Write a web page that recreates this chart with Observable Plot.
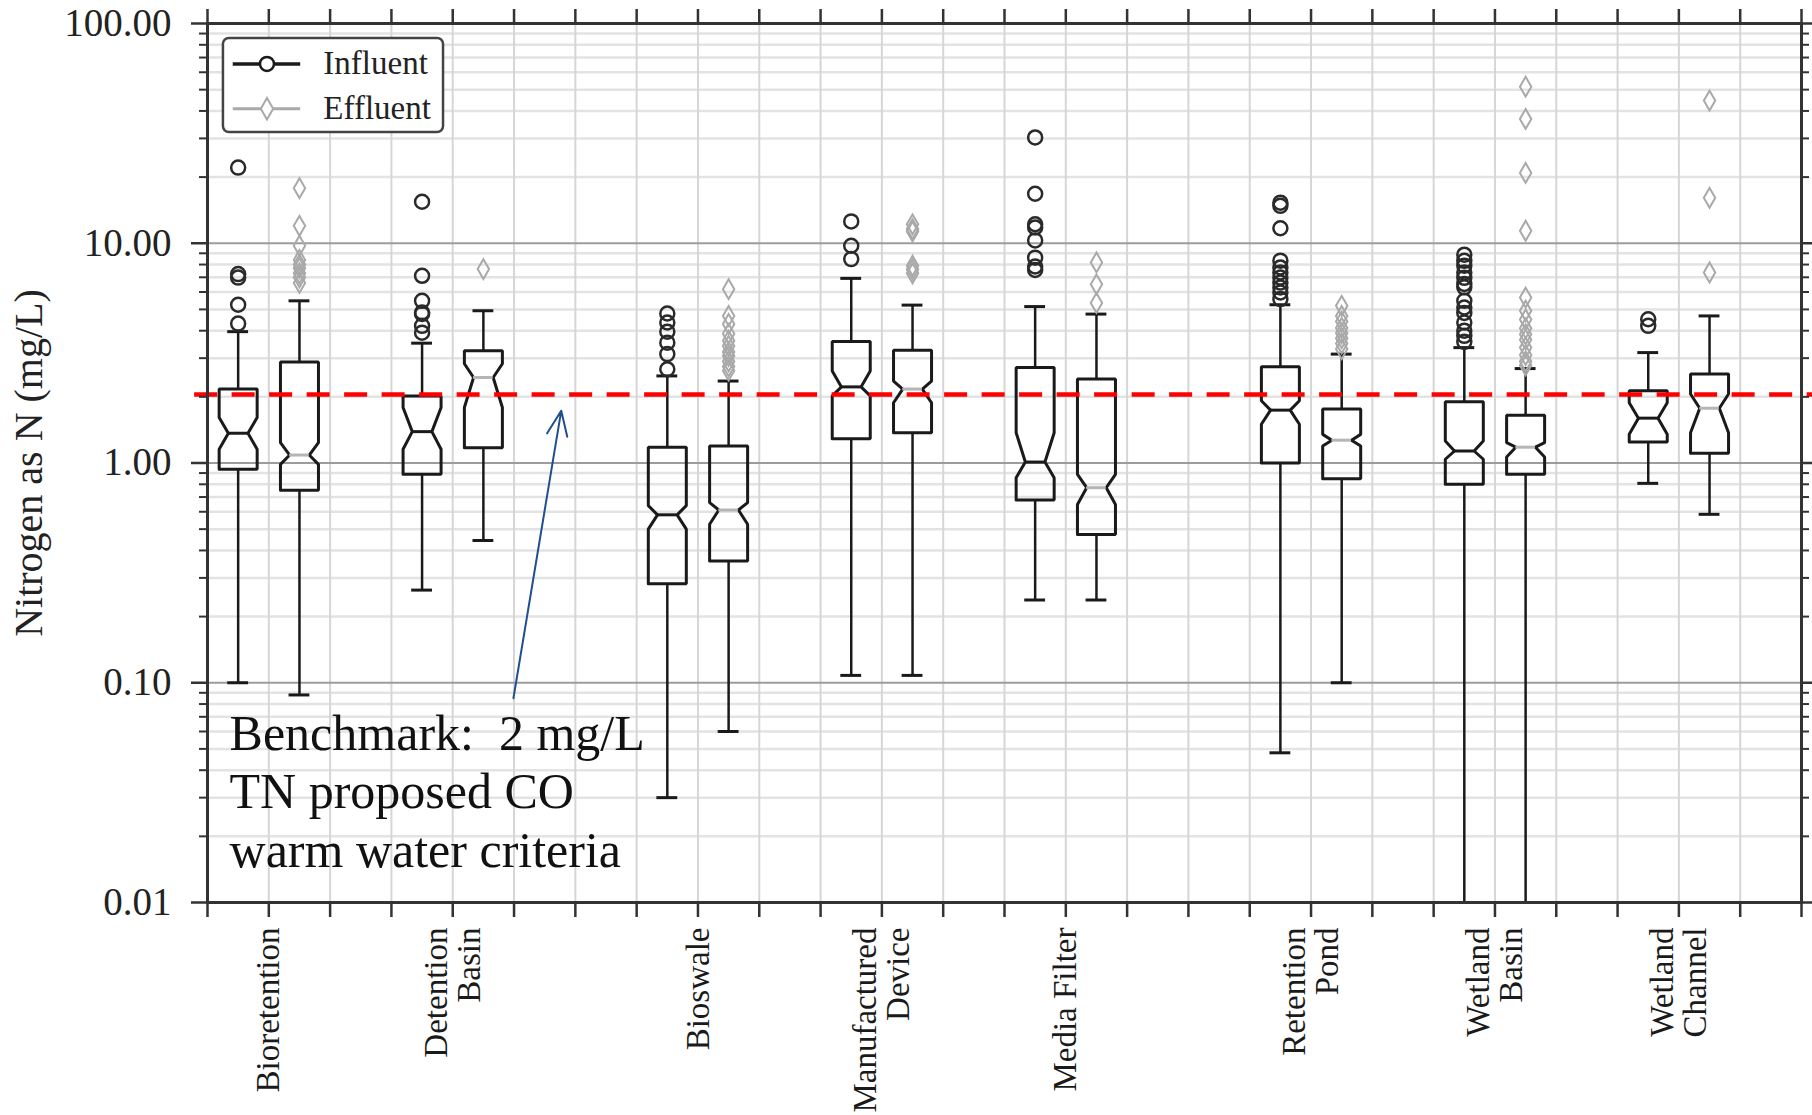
<!DOCTYPE html>
<html><head><meta charset="utf-8">
<script src="https://cdn.jsdelivr.net/npm/d3@7"></script>
<script src="https://cdn.jsdelivr.net/npm/@observablehq/plot@0.6"></script>
<style>
html,body{margin:0;padding:0;background:#fff;}
#chart{width:1812px;height:1115px;}
</style></head><body><div id="chart"></div>
<script>
// ---------- data ----------
const categories = ["Bioretention", "Detention\nBasin", "Bioswale", "Manufactured\nDevice", "Media Filter", "Retention\nPond", "Wetland\nBasin", "Wetland\nChannel"];
const slots = [1, 4, 8, 11, 14, 18, 21, 24];
const slotTicks = d3.range(0, 27);

const infLow     = [0.10, 0.264, 0.030, 0.108, 0.238, 0.048, 0.010, 0.808];
const infQ1      = [0.936, 0.888, 0.282, 1.29, 0.678, 1.00, 0.80, 1.246];
const infNotchLo = [1.155, 1.155, 0.50, 2.02, 0.857, 1.50, 1.04, 1.35];
const infMedian  = [1.366, 1.389, 0.581, 2.22, 1.01, 1.74, 1.134, 1.60];
const infNotchHi = [1.61, 1.79, 0.64, 2.62, 1.374, 1.92, 1.26, 1.88];
const infQ3      = [2.17, 2.02, 1.18, 3.57, 2.72, 2.74, 1.90, 2.13];
const infHigh    = [3.96, 3.51, 2.49, 6.92, 5.15, 5.25, 3.35, 3.18];
const infOutliers = [
  [22.1, 7.24, 6.98, 5.25, 4.31],
  [15.45, 7.11, 5.47, 4.84, 4.77, 4.21, 3.92],
  [4.79, 4.36, 3.96, 3.53, 3.13, 2.67],
  [12.57, 9.74, 8.47],
  [30.3, 16.8, 12.2, 11.8, 10.3, 8.6, 7.84, 7.56],
  [15.3, 14.8, 11.7, 8.33, 7.76, 7.36, 6.98, 6.62, 6.29, 5.97, 5.57],
  [8.87, 8.32, 7.9, 7.36, 6.96, 6.53, 6.3, 5.47, 5.1, 4.82, 4.36, 4.0, 3.79, 3.56],
  [4.51, 4.21]
];

const effLow     = [0.088, 0.444, 0.060, 0.108, 0.238, 0.10, 0.010, 0.584];
const effQ1      = [0.751, 1.174, 0.358, 1.374, 0.473, 0.848, 0.888, 1.107];
const effNotchLo = [0.986, 1.79, 0.526, 1.88, 0.648, 1.195, 1.065, 1.374];
const effMedian  = [1.087, 2.45, 0.611, 2.17, 0.772, 1.27, 1.18, 1.775];
const effNotchHi = [1.237, 2.83, 0.66, 2.36, 0.888, 1.35, 1.237, 2.06];
const effQ3      = [2.88, 3.24, 1.195, 3.26, 2.41, 1.76, 1.65, 2.54];
const effHigh    = [5.47, 4.93, 2.36, 5.23, 4.76, 3.13, 2.69, 4.67];
const effOutliers = [
  [17.8, 12.0, 9.74, 8.4, 8.0, 7.7, 7.3, 7.0, 6.6],
  [7.63],
  [6.18, 4.67, 4.29, 3.87, 3.6, 3.41, 3.2, 3.07, 2.9, 2.75, 2.63],
  [12.2, 11.6, 11.3, 7.9, 7.6, 7.3],
  [8.18, 6.5, 5.35],
  [5.19, 4.67, 4.4, 4.12, 3.9, 3.7, 3.5, 3.3],
  [51.6, 36.8, 20.9, 11.4, 5.66, 4.93, 4.5, 4.1, 3.85, 3.64, 3.35, 3.1, 2.9, 2.78],
  [44.6, 16.1, 7.36]
];

const yMajorTicks = [0.01, 0.1, 1, 10, 100];
const yMinorTicks = [0.01, 0.1, 1, 10].flatMap(d => d3.range(2, 10).map(k => +(k * d).toPrecision(3)));

const benchmarkLevel = 2.05; // as drawn in the picture (2 mg/L benchmark)
const benchmarkText = "Benchmark:  2 mg/L\nTN proposed CO\nwarm water criteria";
const legendLabels = ["Influent", "Effluent"];
const legendY = [65.5, 40.9];

// ---------- styles ----------
const FONT = "'Liberation Serif', 'Times New Roman', serif";
const INK = "#1a1a1a";
const AXIS = "#333333";
const EFF_GRAY = "#a9a9a9";
const BOX_HALF = 0.31, NOTCH_HALF = 0.16, CAP_HALF = 0.17, OFFSET = 0.5;

// ---------- build tables ----------
function makeSeries(name, off, low, q1, nlo, med, nhi, q3, high, outl) {
  return slots.map((s, i) => ({
    id: name + i, series: name, x: s + off,
    low: low[i], q1: q1[i], nlo: nlo[i], med: med[i], nhi: nhi[i], q3: q3[i], high: high[i],
    outliers: outl[i]
  }));
}
const inf = makeSeries("Influent", -OFFSET, infLow, infQ1, infNotchLo, infMedian, infNotchHi, infQ3, infHigh, infOutliers);
const eff = makeSeries("Effluent", OFFSET, effLow, effQ1, effNotchLo, effMedian, effNotchHi, effQ3, effHigh, effOutliers);
const boxes = inf.concat(eff);

const outline = boxes.flatMap(b => [
  [b.x - BOX_HALF, b.q1], [b.x - BOX_HALF, b.nlo], [b.x - NOTCH_HALF, b.med], [b.x - BOX_HALF, b.nhi],
  [b.x - BOX_HALF, b.q3], [b.x + BOX_HALF, b.q3], [b.x + BOX_HALF, b.nhi], [b.x + NOTCH_HALF, b.med],
  [b.x + BOX_HALF, b.nlo], [b.x + BOX_HALF, b.q1], [b.x - BOX_HALF, b.q1]
].map(([x, y]) => ({id: b.id, x, y})));

const infPts = inf.flatMap(b => b.outliers.map(v => ({x: b.x, y: v})));
const effPts = eff.flatMap(b => b.outliers.map(v => ({x: b.x, y: v})));

const legendRows = legendLabels.map((label, i) => ({label, y: legendY[i]}));

const chart = Plot.plot({
  width: 1812, height: 1115,
  marginLeft: 207, marginRight: 11, marginTop: 23, marginBottom: 213,
  style: {fontFamily: FONT, color: "#222", background: "#fff"},
  x: {type: "linear", domain: [0, 26], label: null},
  y: {type: "log", domain: [0.01, 100], label: null},
  marks: [
    // grid
    Plot.gridY({ticks: yMinorTicks, stroke: "#e3e3e3", strokeOpacity: 1, strokeWidth: 2.5}),
    Plot.gridX({ticks: slotTicks, stroke: "#d6d6d6", strokeOpacity: 1, strokeWidth: 2}),
    Plot.gridY({ticks: yMajorTicks, stroke: "#9c9c9c", strokeOpacity: 1, strokeWidth: 2}),
    // legend
    Plot.rect([0], {x1: 0.26, x2: 3.85, y1: 31.9, y2: 85.5, fill: "white", stroke: "#444", strokeWidth: 2.5, rx: 6}),
    Plot.ruleY([legendRows[0]], {y: "y", x1: 0.42, x2: 1.52, stroke: INK, strokeWidth: 3.5}),
    Plot.ruleY([legendRows[1]], {y: "y", x1: 0.42, x2: 1.52, stroke: EFF_GRAY, strokeWidth: 3}),
    Plot.dot([legendRows[0]], {x: 0.97, y: "y", symbol: "circle", r: 7, stroke: INK, fill: "white", strokeWidth: 2.5}),
    Plot.dot([legendRows[1]], {x: 0.97, y: "y", symbol: "diamond", r: 6.5, stroke: EFF_GRAY, fill: "white", strokeWidth: 2}),
    Plot.text(legendRows, {x: 1.89, y: "y", text: "label", textAnchor: "start", fontSize: 33, fill: "#222"}),
    // whiskers
    Plot.ruleX(boxes, {x: "x", y1: "q3", y2: "high", stroke: INK, strokeWidth: 2.5}),
    Plot.ruleX(boxes, {x: "x", y1: "low", y2: "q1", stroke: INK, strokeWidth: 2.5}),
    Plot.ruleY(boxes, {y: "high", x1: d => d.x - CAP_HALF, x2: d => d.x + CAP_HALF, stroke: INK, strokeWidth: 3}),
    Plot.ruleY(boxes, {y: "low", x1: d => d.x - CAP_HALF, x2: d => d.x + CAP_HALF, stroke: INK, strokeWidth: 3}),
    // notched boxes
    Plot.line(outline, {x: "x", y: "y", z: "id", stroke: INK, strokeWidth: 3, strokeLinejoin: "miter"}),
    // medians
    Plot.ruleY(inf, {y: "med", x1: d => d.x - NOTCH_HALF, x2: d => d.x + NOTCH_HALF, stroke: INK, strokeWidth: 3}),
    Plot.ruleY(eff, {y: "med", x1: d => d.x - NOTCH_HALF, x2: d => d.x + NOTCH_HALF, stroke: "#b5b5b5", strokeWidth: 3}),
    // outliers
    Plot.dot(infPts, {x: "x", y: "y", symbol: "circle", r: 7, stroke: "#2a2a2a", strokeWidth: 2.5, fill: "none"}),
    Plot.dot(effPts, {x: "x", y: "y", symbol: "diamond", r: 6, stroke: EFF_GRAY, strokeWidth: 2, fill: "none"}),
    // benchmark line
    Plot.ruleY([benchmarkLevel], {y: d => d, x1: -0.21, x2: 26.2, stroke: "#ff0000", strokeWidth: 4.5, strokeDasharray: "23,14.5"}),
    // annotation
    Plot.arrow([{x1: 4.99, y1: 0.085, x2: 5.77, y2: 1.73}], {x1: "x1", y1: "y1", x2: "x2", y2: "y2", stroke: "#1f4f8f", strokeWidth: 2, headLength: 20, headAngle: 45}),
    Plot.text([benchmarkText], {x: 0.36, y: 0.0765, text: d => d, textAnchor: "start", lineAnchor: "top", fontSize: 50, lineHeight: 1.17, fill: "#111"}),
    // frame
    Plot.frame({stroke: AXIS, strokeWidth: 3}),
    // axes
    Plot.axisY({anchor: "left", ticks: yMajorTicks, tickSize: 16, tickPadding: 20, tickFormat: d => d.toFixed(2), fontSize: 39, stroke: AXIS, strokeWidth: 2.5, fill: "#222"}),
    Plot.axisY({anchor: "left", ticks: yMinorTicks, tickSize: 8, tickFormat: () => "", stroke: AXIS, strokeWidth: 2}),
    Plot.axisY({anchor: "right", ticks: yMajorTicks, tickSize: 14, tickFormat: () => "", stroke: AXIS, strokeWidth: 2.5}),
    Plot.axisY({anchor: "right", ticks: yMinorTicks, tickSize: 7, tickFormat: () => "", stroke: AXIS, strokeWidth: 2}),
    Plot.axisX({anchor: "bottom", ticks: slotTicks, tickSize: 15, tickFormat: () => "", stroke: AXIS, strokeWidth: 2.5}),
    Plot.axisX({anchor: "top", ticks: slotTicks, tickSize: 15, tickFormat: () => "", stroke: AXIS, strokeWidth: 2.5}),
    // category labels
    Plot.text(categories, {x: (d, i) => slots[i], text: d => d, frameAnchor: "bottom", dy: 25, rotate: -90, textAnchor: "end", lineAnchor: "middle", lineHeight: 1.0, fontSize: 33, fill: "#1a1a1a"}),
    // y axis title
    Plot.text(["Nitrogen as N (mg/L)"], {text: d => d, frameAnchor: "left", dx: -178, rotate: -90, textAnchor: "middle", fontSize: 40, fill: "#222"})
  ]
});
document.getElementById("chart").appendChild(chart);
</script>
</body></html>
